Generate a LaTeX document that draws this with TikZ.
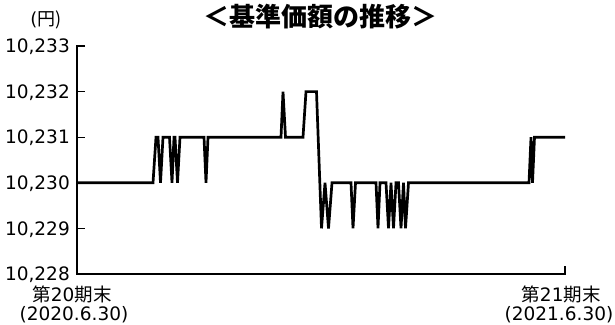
\documentclass[tikz,border=0pt]{standalone}
\usepackage{fontspec}
\setmainfont{DejaVu Sans}
\newfontfamily\jpfont{Noto Sans CJK JP}
\usetikzlibrary{positioning}

\tikzset{
  axisline/.style={line width=1.3pt},
  navline/.style={line width=2.7pt, line join=miter},
  ticklabel/.style={font=\fontsize{18.5}{20}\selectfont, anchor=base east, inner sep=0pt},
  datelabel/.style={font=\fontsize{18.5}{20}\selectfont, anchor=base, inner sep=0pt}
}

\begin{document}
\begin{tikzpicture}[x=1pt,y=-1pt]
    \useasboundingbox (0,0) rectangle (615,324);

    % Title and unit
    \node[font=\jpfont\bfseries\fontsize{26}{28}\selectfont] (title) at (320,17) {＜基準価額の推移＞};
    \node[font=\fontsize{18}{20}\selectfont] (unit) at (46,20) {(\jpfont 円)};

    % Axes, ticks and values (level 0 = 10,228)
    \begin{scope}[shift={(0,274)},y=45.6pt]
        \draw[axisline] (85,5) -- (77,5) -- (77,0) -- (565,0) -- ++(0,8pt);
        \foreach \k in {1,...,4}
            \draw[axisline] (77,\k) -- ++(8,0);
        \foreach \k/\val in {0/228,1/229,2/230,3/231,4/232,5/233}
            \node[ticklabel] (val\val) at ([yshift=-6.6pt]70,\k) {10,\val};

        % Net asset value
        \draw[navline] plot coordinates {
            (77,2) (153,2) (156,3) (158,3) (160.5,2) (163,3) (169.5,3) (172,2)
            (174,3) (175,3) (177.5,2) (180,3) (204,3) (206,2) (208,3) (281,3)
            (283,4) (285.5,3) (303,3) (306,4) (316.5,4) (321.5,1) (325,2) (328.5,1)
            (332,2) (351,2) (353,1) (355.5,2) (376,2) (378,1) (380,2) (386,2)
            (388.5,1) (391,2) (393.5,1) (396,2) (398.5,2) (401,1) (403.5,2) (405.5,1)
            (408.5,2) (529,2) (531,3) (532.5,2) (534.5,3) (565,3)
        };
    \end{scope}

    % Period labels
    \node[datelabel] (start) at (72,301) {{\jpfont 第}20{\jpfont 期末}};
    \node[datelabel] (startdate) at (74,320) {(2020.6.30)};
    \node[datelabel] (end) at (561,301) {{\jpfont 第}21{\jpfont 期末}};
    \node[datelabel] (enddate) at (559,320) {(2021.6.30)};
\end{tikzpicture}
\end{document}
